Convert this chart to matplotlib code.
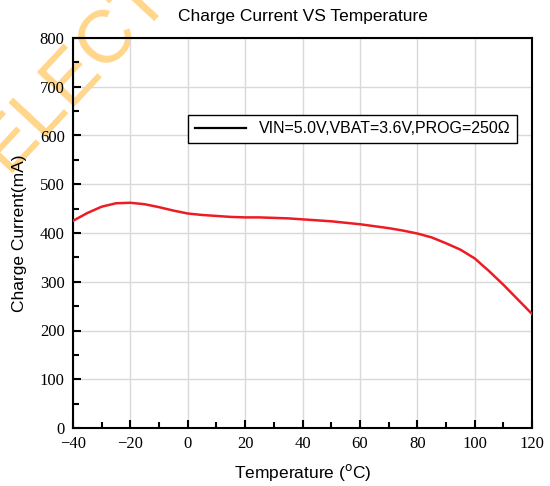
import matplotlib
matplotlib.use('Agg')
import matplotlib.pyplot as plt
from matplotlib.ticker import MultipleLocator

temps = [-40, -35, -30, -25, -20, -15, -10, -5, 0, 5, 10, 15, 20, 25, 30, 35, 40, 45, 50,
         55, 60, 65, 70, 75, 80, 85, 90, 95, 100, 105, 110, 115, 120]
currents = [425, 441, 454, 461, 462, 459, 453, 446, 440, 437, 435, 433, 432, 432, 431, 430, 428, 426, 424,
            421, 418, 414, 410, 405, 399, 391, 379, 366, 348, 322, 294, 264, 234]
series_label = 'VIN=5.0V,VBAT=3.6V,PROG=250Ω'

fig = plt.figure(figsize=(5.5, 4.86), dpi=100)
ax = fig.add_axes([73 / 550, 58 / 486, 459 / 550, 390 / 486])
ax.patch.set_alpha(0)

ax.plot(temps, currents, color='#ED1C24', linewidth=1.8, zorder=3)
legend_line, = ax.plot([], [], color='black', linewidth=1.6, label=series_label)

ax.set_xlim(-40, 120)
ax.set_ylim(0, 800)
ax.xaxis.set_major_locator(MultipleLocator(20))
ax.xaxis.set_minor_locator(MultipleLocator(10))
ax.yaxis.set_major_locator(MultipleLocator(100))
ax.yaxis.set_minor_locator(MultipleLocator(50))
ax.grid(True, which='major', color='#D9D9D9', linewidth=1)
ax.tick_params(which='both', direction='in', top=False, right=False, width=1.5)
ax.tick_params(which='major', length=6, labelsize=12, pad=6)
ax.tick_params(which='minor', length=4)
for lbl in ax.get_xticklabels() + ax.get_yticklabels():
    lbl.set_family('Liberation Serif')
for s in ax.spines.values():
    s.set_linewidth(1.5)

ax.set_title('Charge Current VS Temperature', fontsize=12.5, family='Liberation Sans', pad=12)
ax.set_xlabel('Temperature ($^{\\mathrm{o}}$C)', fontsize=12.5, family='Liberation Sans', labelpad=7)
ax.set_ylabel('Charge Current(mA)', fontsize=12.5, family='Liberation Sans', labelpad=9)

leg = ax.legend(handles=[legend_line], loc='upper right', bbox_to_anchor=(0.967, 0.803),
                frameon=True, fancybox=False, edgecolor='black', framealpha=1,
                borderaxespad=0, handlelength=3.2, prop={'family': 'Liberation Sans', 'size': 11.5})
leg.get_frame().set_linewidth(1)

# watermark, behind the axes
fig.text(0.012, 0.645, 'ELECTRONICS', rotation=47, rotation_mode='anchor', ha='left', va='baseline',
         fontsize=54, family='Liberation Sans', color='#FFD68A', zorder=-1)

fig.savefig('out.png', dpi=100)
